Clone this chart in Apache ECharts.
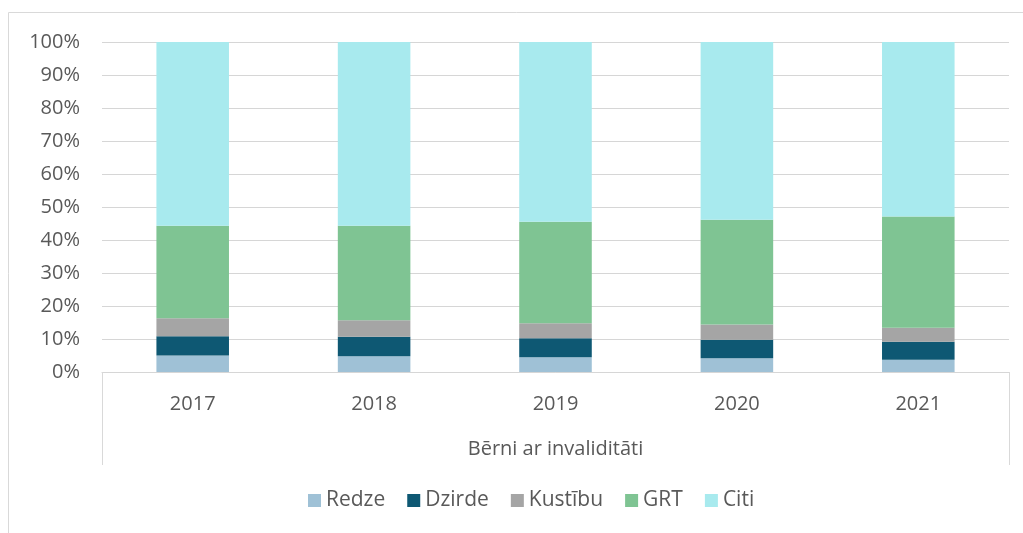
<!DOCTYPE html>
<html>
<head>
<meta charset="utf-8">
<script src="https://cdn.jsdelivr.net/npm/echarts@6/dist/echarts.min.js"></script>
<style>
  html, body { margin: 0; padding: 0; background: #fff; }
  #main { width: 1023px; height: 533px; }
</style>
</head>
<body>
<div id="main"></div>
<script>
// gadi
const years = ['2017', '2018', '2019', '2020', '2021'];
// daļa (%) katrā gadā
const redze = [5.0, 4.8, 4.5, 4.2, 3.7];
const dzirde = [5.8, 5.9, 5.7, 5.6, 5.5];
const kustibu = [5.5, 5.0, 4.6, 4.6, 4.2];
const grt = [28.0, 28.6, 30.7, 31.7, 33.7];
const citi = [55.7, 55.7, 54.5, 53.9, 52.9];
const groupLabel = ['Bērni ar invaliditāti'];

const textColor = '#595959';
const font = '"Open Sans", sans-serif';

const mk = (name, data, color) => ({
  name: name,
  type: 'bar',
  stack: 'total',
  barWidth: '40%',
  data: data,
  itemStyle: { color: color },
});

const chart = echarts.init(document.getElementById('main'));
chart.setOption({
  animation: false,
  textStyle: { fontFamily: font, color: textColor },
  graphic: [{
    type: 'rect',
    shape: { x: 8.5, y: 12.5, width: 1040, height: 540 },
    style: { fill: 'none', stroke: '#d9d9d9', lineWidth: 1 },
    silent: true,
  }],
  grid: { left: 102, right: 14, top: 42, bottom: 161 },
  legend: {
    bottom: 17,
    left: 303,
    itemWidth: 13,
    itemHeight: 13,
    itemGap: 22,
    icon: 'rect',
    textStyle: { fontSize: 21, color: textColor, fontFamily: font },
    data: ['Redze', 'Dzirde', 'Kustību', 'GRT', 'Citi'],
  },
  xAxis: [{
    type: 'category',
    data: years,
    axisLine: { lineStyle: { color: '#d6d6d6', width: 1 } },
    axisTick: { show: false },
    axisLabel: { fontSize: 20, color: textColor, margin: 22, fontFamily: font },
  }, {
    type: 'category',
    data: groupLabel,
    position: 'bottom',
    axisLine: { show: false },
    axisTick: { show: true, length: 93, lineStyle: { color: '#d9d9d9' } },
    axisLabel: { fontSize: 20, color: textColor, margin: 67, fontFamily: font },
  }],
  yAxis: {
    type: 'value',
    min: 0,
    max: 100,
    interval: 10,
    axisLine: { show: false },
    axisTick: { show: false },
    splitLine: { lineStyle: { color: '#d6d6d6', width: 1 } },
    axisLabel: { fontSize: 20, color: textColor, margin: 22, formatter: '{value}%', fontFamily: font },
  },
  series: [
    mk('Redze', redze, '#9fc1d6'),
    mk('Dzirde', dzirde, '#0e5873'),
    mk('Kustību', kustibu, '#a5a5a5'),
    mk('GRT', grt, '#7fc493'),
    mk('Citi', citi, '#a8eaee'),
  ],
});
</script>
</body>
</html>
